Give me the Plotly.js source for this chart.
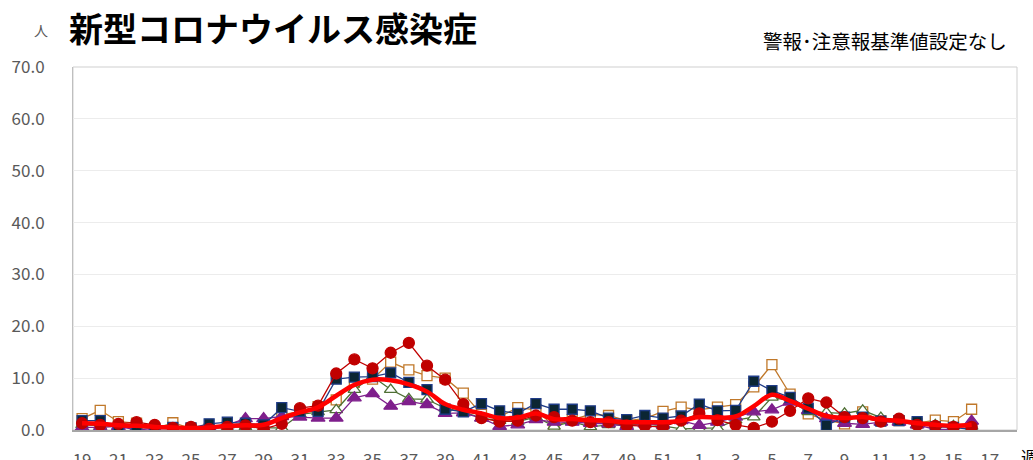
<!DOCTYPE html>
<html>
<head>
<meta charset="utf-8">
<script src="https://cdn.plot.ly/plotly-3.0.1.min.js"></script>
<style>html,body{margin:0;padding:0;background:#fff;}#chart{width:1033px;height:460px;}</style>
</head>
<body>
<div id="chart"></div>
<script>
// Week categories (19..52, 1..18)
const weeks = ["19","20","21","22","23","24","25","26","27","28","29","30","31","32","33","34","35","36","37","38","39","40","41","42","43","44","45","46","47","48","49","50","51","52","1","2","3","4","5","6","7","8","9","10","11","12","13","14","15","16","17","18"];
const tickWeeks = ["19","21","23","25","27","29","31","33","35","37","39","41","43","45","47","49","51","1","3","5","7","9","11","13","15","17"];
const dataWeeks = weeks.slice(0, 50);

const seriesNavy   = [1.8,1.8,0.5,0.8,0.3,0.5,0.4,1.2,1.5,1.3,1.0,4.3,3.6,3.6,9.8,10.2,10.3,11.0,9.2,7.8,4.0,3.5,5.1,3.7,3.2,5.1,4.0,4.0,3.7,2.3,2.0,2.8,2.3,2.7,5.0,3.7,3.8,9.4,7.6,6.3,4.2,0.9,2.5,2.5,1.7,1.8,1.6,0.6,0.5,0.1];
const seriesOrange = [2.2,3.8,1.6,1.3,0.2,1.4,0.3,0.2,0.7,0.6,0.5,2.9,3.6,4.5,5.8,9.2,9.8,13.1,11.6,10.5,10.0,7.1,3.0,2.6,4.3,3.9,0.7,2.0,3.0,2.8,1.8,2.2,3.6,4.4,3.9,4.4,4.9,8.3,12.6,6.9,3.1,1.9,1.2,3.5,1.8,1.8,1.3,1.9,1.6,4.0];
const seriesRed    = [1.3,1.0,1.2,1.5,1.0,0.4,0.6,0.2,0.6,0.9,0.2,1.2,4.2,4.7,10.9,13.6,11.9,14.9,16.8,12.4,9.7,5.0,2.3,1.6,1.8,2.8,2.5,1.8,1.5,1.5,0.9,0.8,0.6,1.8,3.2,1.9,1.0,0.4,1.6,3.7,6.1,5.3,2.5,2.3,1.6,2.2,1.0,0.8,0.6,0.6];
const seriesGreen  = [1.0,0.8,0.6,0.5,0.3,0.2,0.3,0.4,0.4,0.6,0.4,0.4,3.0,3.5,3.9,7.8,10.3,7.8,6.0,5.9,4.2,3.5,2.3,1.8,1.6,2.5,0.7,1.6,0.6,1.0,1.0,1.2,0.8,0.2,0.3,0.4,1.9,2.5,6.3,5.6,3.5,3.4,3.2,3.8,2.4,1.7,1.0,1.0,0.8,0.7];
const seriesPurple = [0.5,0.5,0.7,0.0,0.3,0.2,0.4,0.5,1.0,2.2,2.2,2.6,2.5,2.3,2.3,6.2,7.0,4.6,5.5,4.9,3.2,3.3,2.3,0.7,1.0,2.0,1.5,1.5,1.3,1.2,0.7,1.2,1.0,1.8,0.9,1.5,2.5,3.5,3.9,5.4,3.8,2.2,1.3,1.1,1.5,1.5,1.0,0.1,0.1,1.7];
const seriesAvg    = [1.3,1.2,0.9,0.8,0.6,0.5,0.4,0.5,0.8,0.9,1.0,2.3,3.4,4.4,6.6,8.7,9.7,9.6,8.8,7.4,5.0,3.9,3.2,2.3,2.4,3.2,2.1,2.1,1.9,1.8,1.5,1.5,1.5,1.8,2.5,2.4,2.6,4.6,6.8,5.6,4.1,2.7,2.3,2.5,2.0,1.8,1.3,1.0,0.8,1.0];

const W = 1033, H = 460, L = 73, R = 16, T = 67, B = 30;
const pw = W - L - R, ph = H - T - B;
const px = x => (x - L) / pw;
const py = y => (H - B - y) / ph;

const FONT = '"Noto Sans CJK JP", "Noto Sans", sans-serif';

function tr(y, color, symbol, fill, lw, size) {
  return {
    x: dataWeeks, y: y, type: 'scatter', mode: 'lines+markers',
    line: {color: color, width: lw},
    marker: {symbol: symbol, size: size, color: fill, line: {color: color, width: 1.3}},
    hoverinfo: 'skip', showlegend: false
  };
}

const traces = [
  tr(seriesOrange, '#c0782a', 'square', '#ffffff', 1.3, 10),
  tr(seriesGreen, '#4f7035', 'triangle-up', '#ffffff', 1.3, 11),
  tr(seriesPurple, '#7f1f8c', 'triangle-up', '#7f1f8c', 1.3, 12),
  tr(seriesNavy, '#1f3c88', 'square', '#0b2633', 1.3, 10),
  tr(seriesRed, '#c00000', 'circle', '#c00000', 1.3, 11),
  {x: dataWeeks, y: seriesAvg, type: 'scatter', mode: 'lines',
   line: {color: '#ff0000', width: 4.5, shape: 'spline', smoothing: 1},
   hoverinfo: 'skip', showlegend: false}
];

const layout = {
  width: W, height: H,
  margin: {l: L, r: R, t: T, b: B, pad: 0},
  paper_bgcolor: '#ffffff', plot_bgcolor: '#ffffff',
  font: {family: FONT, size: 17, color: '#595959'},
  xaxis: {
    type: 'category', categoryorder: 'array', categoryarray: weeks,
    range: [-0.5, 51.5], tickmode: 'array', tickvals: tickWeeks, ticktext: tickWeeks,
    ticks: 'outside', ticklen: 14, tickcolor: 'rgba(0,0,0,0)',
    showgrid: false, zeroline: false, showline: true, linecolor: '#a6a6a6', linewidth: 1.5,
    tickfont: {family: FONT, size: 17, color: '#595959'}, fixedrange: true
  },
  yaxis: {
    range: [0, 70], dtick: 10, tickformat: '.1f',
    ticks: 'outside', ticklen: 24, tickcolor: 'rgba(0,0,0,0)',
    showgrid: true, gridcolor: '#ececec', gridwidth: 1, zeroline: false,
    showline: true, linecolor: '#bfbfbf', linewidth: 1,
    tickfont: {family: FONT, size: 17, color: '#595959'}, fixedrange: true
  },
  shapes: [
    {type: 'rect', xref: 'paper', yref: 'paper', x0: 0, x1: 1, y0: 0, y1: 1,
     line: {color: '#cfcfcf', width: 1}, fillcolor: 'rgba(0,0,0,0)', layer: 'below'}
  ],
  annotations: [
    {text: '新型コロナウイルス感染症', xref: 'paper', yref: 'paper', x: px(67), y: py(28),
     xanchor: 'left', yanchor: 'middle', showarrow: false,
     font: {family: FONT, size: 34, color: '#000000', weight: 'bold'}},
    {text: '人', xref: 'paper', yref: 'paper', x: px(41), y: py(30),
     xanchor: 'center', yanchor: 'middle', showarrow: false,
     font: {family: FONT, size: 14, color: '#595959'}},
    {text: '警報･注意報基準値設定なし', xref: 'paper', yref: 'paper', x: px(1009), y: py(41),
     xanchor: 'right', yanchor: 'middle', showarrow: false,
     font: {family: FONT, size: 19.5, color: '#000000'}},
    {text: '週', xref: 'paper', yref: 'paper', x: px(1019), y: py(456),
     xanchor: 'left', yanchor: 'middle', showarrow: false,
     font: {family: FONT, size: 17, color: '#000000'}}
  ]
};

Plotly.newPlot('chart', traces, layout, {displayModeBar: false, staticPlot: true});
</script>
</body>
</html>
